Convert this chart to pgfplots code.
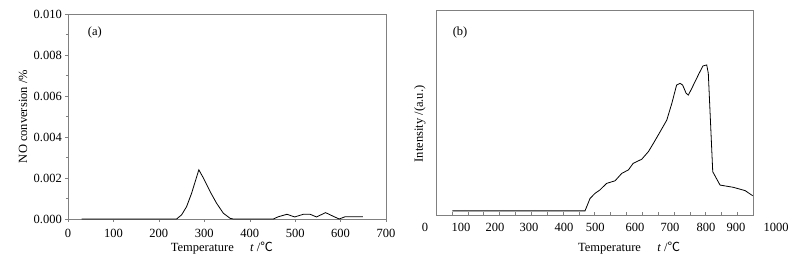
\documentclass[border=0pt]{standalone}
\usepackage{pgfplots}
\pgfplotsset{compat=1.18}
\usepackage{fontspec}
\setmainfont{Liberation Serif}
\newfontfamily\cjk{Noto Sans CJK SC}
\pgfplotstableread{
x y
30 0
239 0
250 0.0002
261 0.0006
272 0.00125
288 0.0024
298 0.0020
313 0.00133
327 0.00077
342 0.00028
357 0.00003
364 0
452 0
463 0.00011
482 0.00023
499 0.0001
518 0.00023
533 0.00023
547 0.0001
567 0.00031
586 0.00011
597 0
610 0.00011
649 0.00011
}\dataA
\pgfplotstableread{
x y
52 2
470 2
486 8.1
502 10.6
517 12.2
538 15.4
565 16.7
586 20.3
607 22
622 25.2
649 27.2
670 30.9
686 35
707 40.6
728 46.3
744 54.5
759 63.4
770 64.2
778 63.4
789 59.4
796 58.5
807 61.8
817 65
830 69.1
842 72.7
854 73.2
859 69.1
873 21.1
896 14.6
938 13.5
975 11.9
999 9.4
}\dataB
\tikzset{tl/.style={font=\fontsize{12.5}{15}\selectfont, anchor=base, inner sep=0pt, yshift=-17pt}}
\begin{document}
\fontsize{12.5}{15}\selectfont
\begin{tikzpicture}[x=1pt,y=1pt]
\useasboundingbox (0,0) rectangle (801,262);
\begin{axis}[
  at={(68pt,43pt)}, anchor=south west,
  scale only axis, width=318pt, height=205pt,
  xmin=0, xmax=700, ymin=0, ymax=0.01,
  xtick={0,100,...,700},
  ytick={0,0.002,0.004,0.006,0.008,0.010},
  minor y tick num=1,
  scaled y ticks=false,
  axis line style={gray}, tick style={gray},
  tick align=outside, major tick length=3pt, minor tick length=2pt,
  xtick pos=bottom, ytick pos=left,
  /pgf/number format/assume math mode=true,
  yticklabel style={/pgf/number format/fixed,/pgf/number format/fixed zerofill,/pgf/number format/precision=3, anchor=east, inner sep=0pt, xshift=-3pt},
  xticklabel style={anchor=base, inner sep=0pt, yshift=-16pt},
  ticklabel style={font=\fontsize{12.5}{15}\selectfont},
  label style={font=\fontsize{12.5}{15}\selectfont},
  xlabel={Temperature\hspace{1.3em}\textit{t} /{\cjk ℃}},
  ylabel={NO conversion /\%},
  xlabel style={at={(axis description cs:0.484,0)}, anchor=center, yshift=-29pt},
  ylabel style={at={(axis description cs:-0.1415,0.5)}, anchor=center, rotate=0},
  clip=false,
]
\addplot[black, line width=0.8pt] table[x=x,y=y] {\dataA};
\node[font=\fontsize{12.5}{15}\selectfont] at (axis cs:59,0.00912) {(a)};
\end{axis}
\begin{axis}[
  at={(436pt,47pt)}, anchor=south west,
  scale only axis, width=317pt, height=205pt,
  xmin=0, xmax=1000, ymin=0, ymax=100,
  xtick={0,50,...,1000}, xticklabels={},
  ytick=\empty,
  axis line style={gray}, tick style={gray},
  tick align=inside, major tick length=3pt,
  xtick pos=bottom,
  label style={font=\fontsize{12.5}{15}\selectfont},
  xlabel={Temperature\hspace{1.3em}\textit{t} /{\cjk ℃}},
  ylabel={Intensity /(a.u.)},
  xlabel style={at={(axis description cs:0.609,0)}, anchor=center, yshift=-33pt},
  ylabel style={at={(axis description cs:-0.0505,0.444)}, anchor=center, rotate=0},
  clip=false,
]
\addplot[black, line width=0.8pt] table[x=x,y=y] {\dataB};
\node[font=\fontsize{12.5}{15}\selectfont] at (axis cs:76,88.8) {(b)};
\node[tl] at (axis cs:-35,0) {0};
\node[tl] at (axis cs:79,0) {100};
\node[tl] at (axis cs:186,0) {200};
\node[tl] at (axis cs:293,0) {300};
\node[tl] at (axis cs:404,0) {400};
\node[tl] at (axis cs:502,0) {500};
\node[tl] at (axis cs:628,0) {600};
\node[tl] at (axis cs:738,0) {700};
\node[tl] at (axis cs:852,0) {800};
\node[tl] at (axis cs:946,0) {900};
\node[tl] at (axis cs:1073,0) {1000};
\end{axis}
\end{tikzpicture}
\end{document}
